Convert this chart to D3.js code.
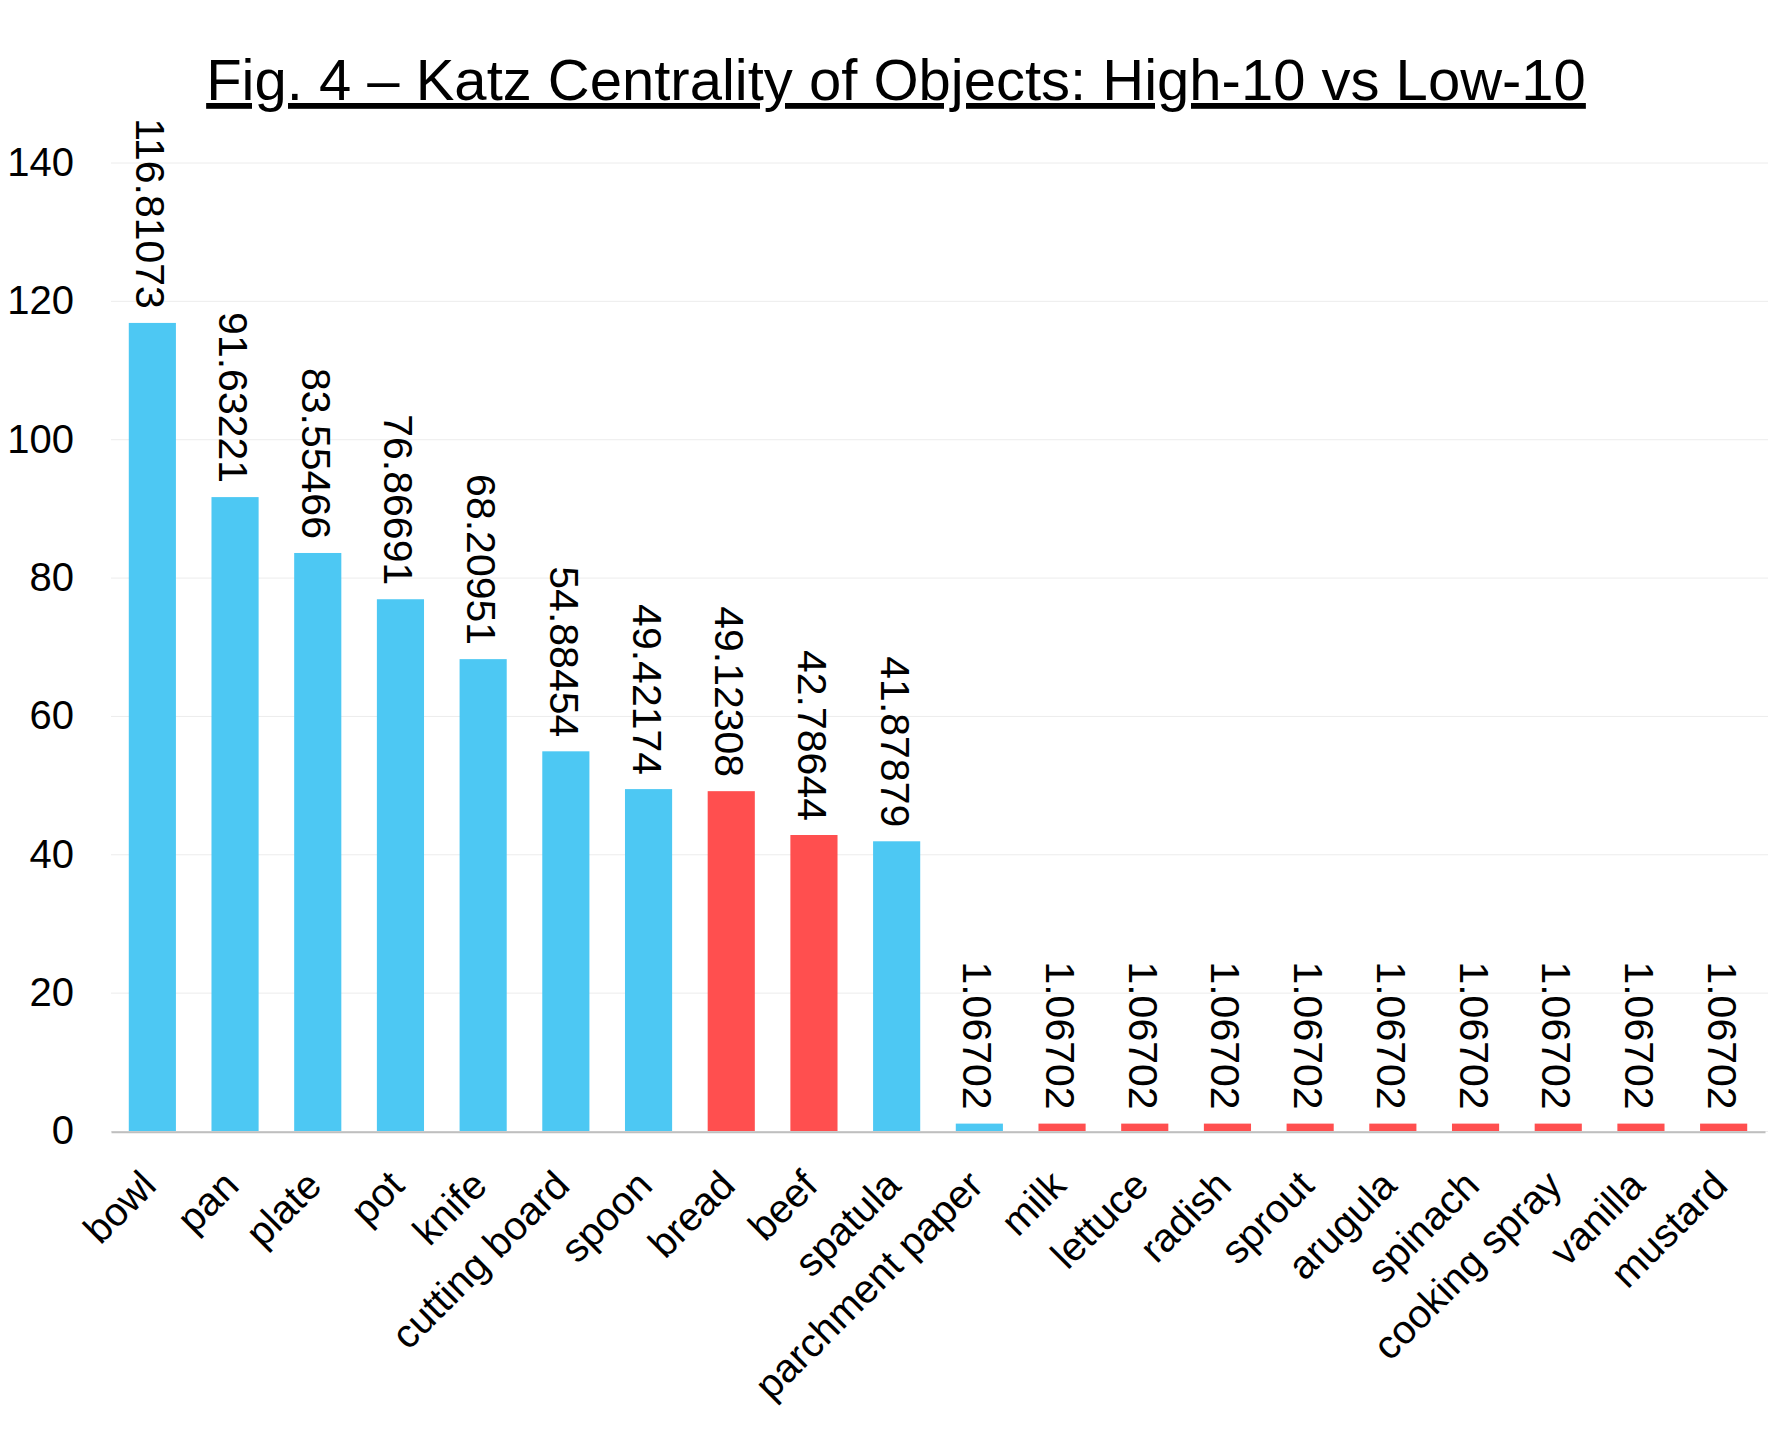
<!DOCTYPE html>
<html>
<head>
<meta charset="utf-8">
<script src="https://cdn.jsdelivr.net/npm/d3@7"></script>
<style>
  body { margin: 0; background: #fff; }
  svg { display: block; font-family: "Liberation Sans", Arial, sans-serif; }
</style>
</head>
<body>
<svg id="chart" width="1768" height="1444"></svg>
<script>
var objects = ['bowl', 'pan', 'plate', 'pot', 'knife', 'cutting board', 'spoon', 'bread', 'beef', 'spatula',
  'parchment paper', 'milk', 'lettuce', 'radish', 'sprout', 'arugula', 'spinach', 'cooking spray', 'vanilla', 'mustard'];
var katz = [116.81073, 91.63221, 83.55466, 76.86691, 68.20951, 54.88454, 49.42174, 49.12308, 42.78644, 41.87879,
  1.06702, 1.06702, 1.06702, 1.06702, 1.06702, 1.06702, 1.06702, 1.06702, 1.06702, 1.06702];
var kinds = ['tool', 'tool', 'tool', 'tool', 'tool', 'tool', 'tool', 'food', 'food', 'tool',
  'tool', 'food', 'food', 'food', 'food', 'food', 'food', 'food', 'food', 'food'];
var yTicks = [0, 20, 40, 60, 80, 100, 120, 140];

var data = objects.map(function (d, i) {
  return { name: d, value: katz[i], kind: kinds[i] };
});

var W = 1768;
var plotLeft = 111, plotRight = 1765, plotTop = 162.5, plotBottom = 1131;

var svg = d3.select('#chart');

var color = d3.scaleOrdinal()
  .domain(['tool', 'food'])
  .range(['#4dc8f3', '#ff4f4f']);

var xScale = d3.scaleBand()
  .domain(objects)
  .range([plotLeft, plotRight])
  .paddingInner(0.43)
  .paddingOuter(0.215);
var yScale = d3.scaleLinear()
  .domain([0, 140])
  .range([plotBottom, plotTop]);

// y axis + gridlines
var yAxis = d3.axisLeft(yScale)
  .tickValues(yTicks)
  .tickSize(-(W - plotLeft))
  .tickPadding(37);
var gy = svg.append('g')
  .attr('transform', 'translate(' + plotLeft + ',0)')
  .call(yAxis);
gy.select('.domain').remove();
gy.selectAll('.tick line')
  .attr('stroke', '#ececec')
  .attr('stroke-width', 1);
gy.selectAll('.tick text')
  .attr('font-size', 40)
  .attr('font-family', '"Liberation Sans", Arial, sans-serif')
  .attr('fill', '#000');

// bars
svg.selectAll('rect.bar')
  .data(data)
  .enter()
  .append('rect')
  .attr('class', 'bar')
  .attr('x', function (d) { return xScale(d.name); })
  .attr('y', function (d) { return yScale(d.value); })
  .attr('width', xScale.bandwidth())
  .attr('height', function (d) { return plotBottom - yScale(d.value); })
  .attr('fill', function (d) { return color(d.kind); });

// value labels, rotated
svg.selectAll('text.val')
  .data(data)
  .enter()
  .append('text')
  .attr('class', 'val')
  .attr('transform', function (d) {
    var cx = xScale(d.name) + xScale.bandwidth() / 2 - 2;
    var cy = yScale(d.value) - 14;
    return 'translate(' + cx + ',' + cy + ') rotate(90)';
  })
  .attr('text-anchor', 'end')
  .attr('dominant-baseline', 'central')
  .attr('font-size', 41)
  .attr('fill', '#000')
  .text(function (d) { return d.value; });

// x axis
var xAxis = d3.axisBottom(xScale)
  .tickSize(0)
  .tickSizeOuter(0);
var gx = svg.append('g')
  .attr('transform', 'translate(0,' + (plotBottom + 0.7) + ')')
  .call(xAxis);
gx.select('.domain')
  .attr('stroke', '#bfbfbf')
  .attr('stroke-width', 2);
gx.selectAll('.tick text')
  .attr('font-size', 40)
  .attr('font-family', '"Liberation Sans", Arial, sans-serif')
  .attr('fill', '#000')
  .attr('y', 0)
  .attr('dy', 0)
  .attr('text-anchor', 'end')
  .attr('transform', 'translate(6,56) rotate(-45)');

// title
svg.append('text')
  .attr('x', 896)
  .attr('y', 100)
  .attr('text-anchor', 'middle')
  .attr('font-size', 58)
  .attr('text-decoration', 'underline')
  .attr('fill', '#000')
  .text('Fig. 4 \u2013 Katz Centrality of Objects: High-10 vs Low-10');
</script>
</body>
</html>
